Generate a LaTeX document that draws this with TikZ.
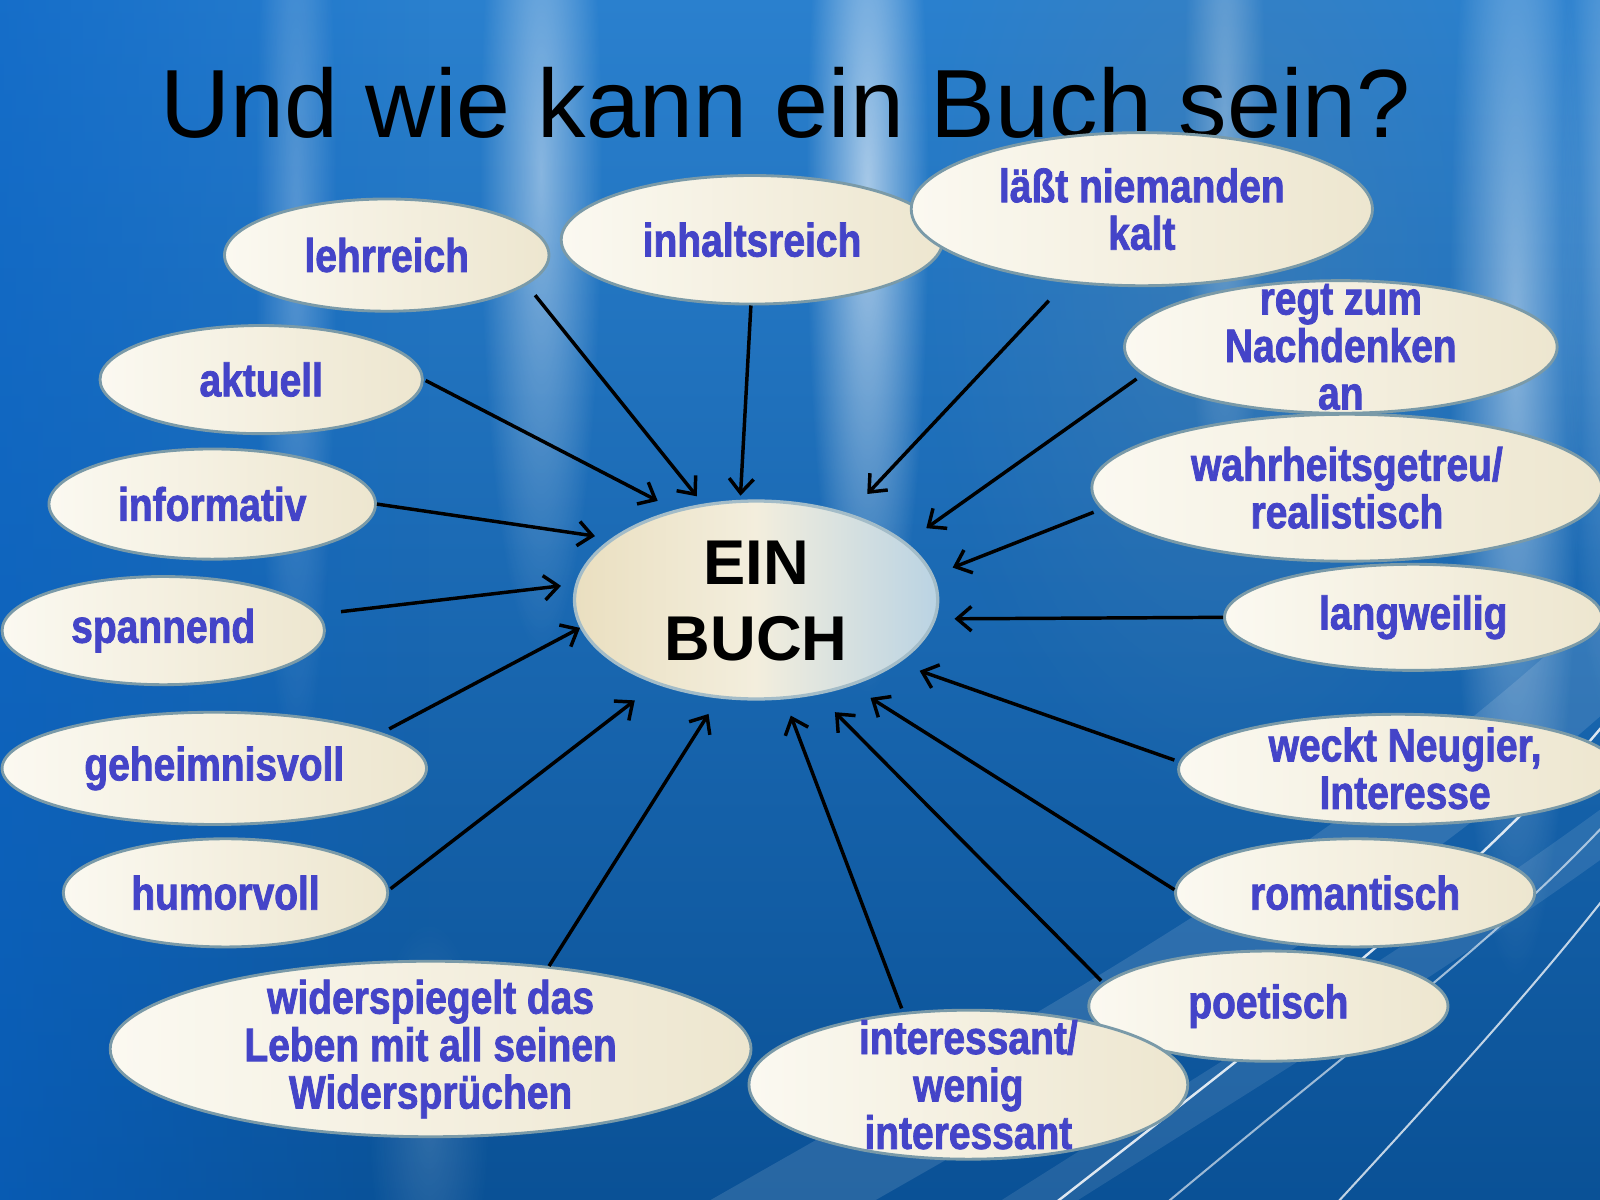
\documentclass[tikz,border=0pt]{standalone}
\usepackage{fontspec}
\setmainfont{Liberation Sans}
\newfontfamily\lblfont{Liberation Sans}[FakeStretch=0.83, BoldFeatures={FakeBold=1.6}]
\usetikzlibrary{arrows.meta,fadings,shapes.geometric}
\definecolor{bgtop}{HTML}{2A80CE}
\definecolor{bgbot}{HTML}{0A5196}
\definecolor{bgleft}{HTML}{0862C6}
\definecolor{bgsteel}{HTML}{4E82AE}
\definecolor{creamL}{HTML}{FBF9F1}
\definecolor{creamR}{HTML}{EDE6CF}
\definecolor{ellline}{HTML}{7A9AA8}
\definecolor{lblblue}{HTML}{4444C8}
\definecolor{buchL}{HTML}{EADFC0}
\definecolor{buchM}{HTML}{F3EEDD}
\definecolor{buchR}{HTML}{BAD3E3}
\definecolor{buchline}{HTML}{A3BCC8}
\tikzfading[name=leftglow, left color=transparent!0, right color=transparent!100]
\tikzfading[name=softglow, inner color=transparent!0, outer color=transparent!100]
\begin{document}
\begin{tikzpicture}[x=0.5pt,y=-0.5pt,
  ell/.style={ellipse, draw=ellline, line width=1.4pt, left color=creamL, right color=creamR, inner sep=0pt},
  lbl/.style={text=lblblue, font=\lblfont\bfseries\fontsize{23}{23.25}\selectfont, align=center, inner sep=0pt},
  arr/.style={draw=black, line width=1.7pt, -{Straight Barb[length=7pt,width=12pt]}},
  streak/.style={fill=white, path fading=softglow},
  glint/.style={draw=white, line cap=round},
]
% ---------- background ----------
\clip (0,0) rectangle (1568,1176);
\shade[top color=bgtop, bottom color=bgbot] (0,0) rectangle (1568,1176);
\fill[bgleft, opacity=0.6, path fading=leftglow] (0,0) rectangle (420,1176);
\fill[bgsteel, opacity=0.45, path fading=softglow] (900,-300) rectangle (1500,800);
\fill[streak, opacity=0.25] (250,-300) rectangle (330,760);
\fill[streak, opacity=0.45] (470,-300) rectangle (590,640);
\fill[streak, opacity=0.60] (790,-300) rectangle (910,680);
\fill[streak, opacity=0.30] (1160,-300) rectangle (1240,540);
\fill[streak, opacity=0.45] (1420,-300) rectangle (1550,960);
\fill[streak, opacity=0.30] (1530,-300) rectangle (1620,700);
\fill[streak, opacity=0.15] (360,900) rectangle (480,1300);
\draw[white, opacity=0.12, line width=40pt] (700,1220) .. controls (1050,1020) and (1350,860) .. (1620,600);
\draw[white, opacity=0.10, line width=20pt] (950,1220) .. controls (1200,1060) and (1420,930) .. (1620,780);
\draw[glint, opacity=0.85, line width=1.2pt] (1020,1190) .. controls (1250,1010) and (1450,860) .. (1580,700);
\draw[glint, opacity=0.60, line width=1pt] (1130,1190) .. controls (1320,1030) and (1470,920) .. (1580,800);
\draw[glint, opacity=0.75, line width=1pt] (1300,1190) .. controls (1420,1060) and (1510,960) .. (1580,870);
% ---------- title ----------
\node[anchor=base, inner sep=0pt, font=\fontsize{47.5}{50}\selectfont] (title) at (770,135) {Und wie kann ein Buch sein?};
% ---------- ellipses ----------
\node[ell, minimum width=159pt, minimum height=55pt] (lehr)   at (379,250) {};
\node[ell, minimum width=158pt, minimum height=53pt] (aktu)   at (256,372) {};
\node[ell, minimum width=160pt, minimum height=54pt] (info)   at (208,494) {};
\node[ell, minimum width=158pt, minimum height=53pt] (spann)  at (160,618) {};
\node[ell, minimum width=208pt, minimum height=55pt] (geheim) at (210,753) {};
\node[ell, minimum width=159pt, minimum height=53pt] (humor)  at (221,875) {};
\node[ell, minimum width=314pt, minimum height=86pt] (wider)  at (422,1028) {};
\node[ell, minimum width=176pt, minimum height=54pt] (poet)   at (1243,986) {};
\node[ell, minimum width=215pt, minimum height=73pt] (inter)  at (949,1063) {};
\node[ell, minimum width=176pt, minimum height=53pt] (roman)  at (1328,875) {};
\node[ell, minimum width=215pt, minimum height=54pt] (weckt)  at (1370,754) {};
\node[ell, minimum width=185pt, minimum height=52pt] (lang)   at (1385,605) {};
\node[ell, minimum width=212pt, minimum height=65pt] (regt)   at (1314,340) {};
\node[ell, minimum width=250pt, minimum height=72pt] (wahr)   at (1320,478) {};
\node[ell, minimum width=187pt, minimum height=63pt] (inhalt) at (737,235) {};
\node[ell, minimum width=226pt, minimum height=75pt] (laesst) at (1119,205) {};
\node[ellipse, draw=buchline, line width=1.6pt, left color=buchL, right color=buchR, middle color=buchM,
      inner sep=0pt, minimum width=178pt, minimum height=97pt] (buch) at (741,588) {};
% ---------- arrows ----------
\draw[arr, shorten <=6.5pt, shorten >=4.7pt] (lehr.-12)    -- (buch.119);
\draw[arr, shorten <=0pt,   shorten >=2pt]   (inhalt.-91)  -- (buch.99.6);
\draw[arr, shorten <=12pt,  shorten >=13pt]  (laesst.-136) -- (buch.43.9);
\draw[arr, shorten <=3.5pt, shorten >=12pt]  (regt.-172.3) -- (buch.21.6);
\draw[arr, shorten <=4pt,   shorten >=10pt]  (wahr.-175.7) -- (buch.8.3);
\draw[arr, shorten <=0pt,   shorten >=9pt]   (lang.180)    -- (buch.-6.5);
\draw[arr, shorten <=2.5pt, shorten >=11pt]  (weckt.178.4) -- (buch.-24.6);
\draw[arr, shorten <=0pt,   shorten >=11pt]  (roman.179.3) -- (buch.-42.5);
\draw[arr, shorten <=1.5pt, shorten >=12pt]  (poet.172.8)  -- (buch.-57.6);
\draw[arr, shorten <=2pt,   shorten >=8.5pt] (inter.132.5) -- (buch.-74.1);
\draw[arr, shorten <=0pt,   shorten >=9pt]   (wider.35.9)  -- (buch.-111.4);
\draw[arr, shorten <=1pt,   shorten >=13pt]  (humor.1.1)   -- (buch.-140.3);
\draw[arr, shorten <=4pt,   shorten >=0pt]   (geheim.12)   -- (buch.-171.8);
\draw[arr, shorten <=11pt,  shorten >=7pt]   (spann.6.6)   -- (buch.175.5);
\draw[arr, shorten <=0pt,   shorten >=8pt]   (info.0.7)    -- (buch.157.4);
\draw[arr, shorten <=1pt,   shorten >=9.5pt] (aktu.-0.4)   -- (buch.132.6);
% ---------- texts ----------
\node[lbl] (lehr-t)   at (lehr)   {lehrreich};
\node[lbl] (aktu-t)   at (aktu)   {aktuell};
\node[lbl] (info-t)   at (info)   {informativ};
\node[lbl] (spann-t)  at (spann)  {spannend};
\node[lbl] (geheim-t) at (geheim) {geheimnisvoll};
\node[lbl] (humor-t)  at (humor)  {humorvoll};
\node[lbl] (wider-t)  at (wider)  {widerspiegelt das\\Leben mit all seinen\\Widersprüchen};
\node[lbl] (poet-t)   at (poet)   {poetisch};
\node[lbl] (inter-t)  at (inter)  {interessant/\\wenig\\interessant};
\node[lbl] (roman-t)  at (roman)  {romantisch};
\node[lbl] (weckt-t)  at (1377,753) {weckt Neugier,\\Interesse};
\node[lbl] (lang-t)   at (lang)   {langweilig};
\node[lbl] (regt-t)   at (regt)   {regt zum\\Nachdenken\\an};
\node[lbl] (wahr-t)   at (wahr)   {wahrheitsgetreu/\\realistisch};
\node[lbl] (inhalt-t) at (inhalt) {inhaltsreich};
\node[lbl] (laesst-t) at (laesst) {läßt niemanden\\kalt};
\node[inner sep=0pt, align=center, font=\bfseries\fontsize{31}{37.5}\selectfont] (buch-t) at (741,589) {EIN\\BUCH};
\end{tikzpicture}
\end{document}
